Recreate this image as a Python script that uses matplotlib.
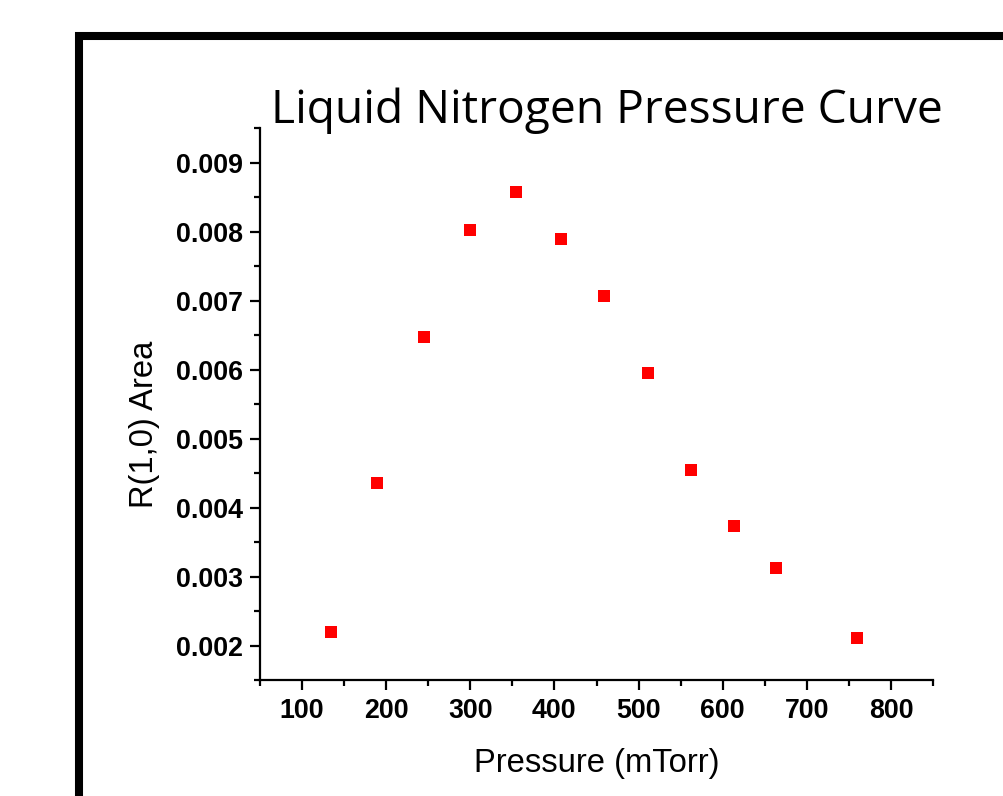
import matplotlib
matplotlib.use("Agg")
import matplotlib.pyplot as plt
from matplotlib.patches import Rectangle
from matplotlib.ticker import MultipleLocator, FormatStrFormatter

# pressure readings (mTorr) and R(1,0) line area
pressure = [134, 189, 245, 300, 354, 408, 459, 511, 562, 613, 663, 760]
area = [0.00219, 0.00435, 0.00648, 0.00802, 0.00857, 0.00790,
        0.00707, 0.00595, 0.00454, 0.00374, 0.00312, 0.00211]

title = "Liquid Nitrogen Pressure Curve"
x_label = "Pressure (mTorr)"
y_label = "R(1,0) Area"

fig = plt.figure(figsize=(10.04, 7.96), dpi=100)

# thick black frame that runs off the right and bottom edges
frame = Rectangle((79.5 / 1004, -0.1), 1.2, 1 - 36 / 796 + 0.1,
                  transform=fig.transFigure, fill=False,
                  edgecolor='black', linewidth=5.8)
fig.patches.append(frame)

ax = fig.add_axes([260 / 1004, 1 - 680 / 796, 673 / 1004, (680 - 128.3) / 796])

ax.plot(pressure, area, linestyle='none', marker='s', markersize=8.2,
        color='#ff0000', markeredgewidth=0)

ax.set_xlim(50, 850)
ax.set_ylim(0.0015, 0.0095)
ax.xaxis.set_major_locator(MultipleLocator(100))
ax.xaxis.set_minor_locator(MultipleLocator(50))
ax.yaxis.set_major_locator(MultipleLocator(0.001))
ax.yaxis.set_minor_locator(MultipleLocator(0.0005))
ax.yaxis.set_major_formatter(FormatStrFormatter('%.3f'))

for side in ['top', 'right']:
    ax.spines[side].set_visible(False)
for side in ['left', 'bottom']:
    ax.spines[side].set_linewidth(1.6)

ax.tick_params(which='major', direction='out', length=7, width=1.6)
ax.tick_params(which='minor', direction='out', length=4.5, width=1.6)
ax.tick_params(axis='y', which='major', pad=5)
ax.tick_params(axis='x', which='major', pad=6)

for lab in ax.get_xticklabels() + ax.get_yticklabels():
    lab.set_fontfamily('Liberation Sans')
    lab.set_fontweight('bold')
    lab.set_fontsize(19.3)

ax.set_xlabel(x_label, fontfamily='Liberation Sans', fontsize=23.6, labelpad=17)
ax.set_ylabel(y_label, fontfamily='Liberation Sans', fontsize=23.6, labelpad=12)
# y label sits a little below the middle of the axis
ax.yaxis.label.set_y(0.463)

fig.text(607 / 1004, 1 - 123 / 796, title, ha='center', va='baseline',
         fontfamily='Open Sans', fontsize=33.2)

fig.savefig('out.png', dpi=100, facecolor='white')
